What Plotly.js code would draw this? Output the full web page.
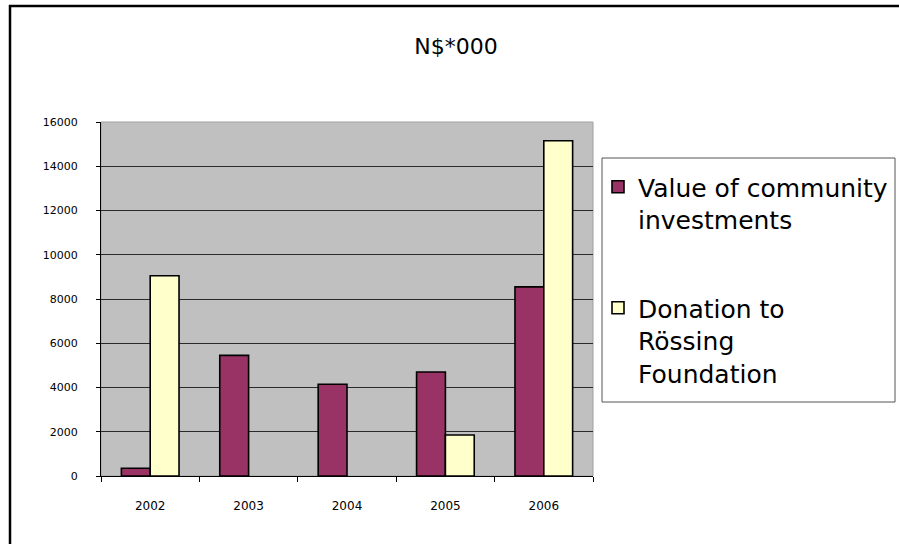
<!DOCTYPE html>
<html>
<head>
<meta charset="utf-8">
<script src="https://cdn.plot.ly/plotly-3.0.1.min.js"></script>
<style>
html,body{margin:0;padding:0;background:#fff;}
#chart{width:899px;height:544px;}
</style>
</head>
<body>
<div id="chart"></div>
<script>
const years = ['2002', '2003', '2004', '2005', '2006'];
const communityInvestments = [350, 5450, 4150, 4700, 8550];
const rossingDonation = [9050, null, null, 1850, 15150];
const seriesNames = ['Value of community<br>investments', 'Donation to<br>Rössing<br>Foundation'];
const yTicks = [0, 2000, 4000, 6000, 8000, 10000, 12000, 14000, 16000];

const FONT = 'DejaVu Sans, Arial, sans-serif';
const L = 101, R = 593, T = 122, B = 476, W = 899, H = 544;
const px = x => (x - L) / (R - L);
const py = y => (B - y) / (B - T);

const traces = [
  {
    type: 'bar', x: years, y: communityInvestments, name: seriesNames[0],
    legendgroup: 'a',
    marker: {color: '#993366', line: {color: '#000', width: 1.6}}
  },
  {
    type: 'bar', x: years, y: rossingDonation, name: seriesNames[1],
    legendgroup: 'b',
    marker: {color: '#FFFFCC', line: {color: '#000', width: 1.6}}
  }
];

const layout = {
  width: W, height: H,
  margin: {l: L, r: W - R, t: T, b: H - B, pad: 0, autoexpand: false},
  paper_bgcolor: '#fff',
  plot_bgcolor: '#C0C0C0',
  font: {family: FONT, color: '#000'},
  barmode: 'group',
  bargap: 0.414,
  bargroupgap: 0,
  title: {
    text: 'N$*000',
    font: {family: FONT, size: 22, color: '#000'},
    x: 456 / W, xref: 'container', xanchor: 'center',
    y: 1 - 46 / H, yref: 'container', yanchor: 'middle'
  },
  xaxis: {
    type: 'category',
    tickson: 'boundaries',
    ticks: 'outside', ticklen: 5, tickcolor: '#000', tickwidth: 1,
    showline: true, linecolor: '#000', linewidth: 1,
    showgrid: false, zeroline: false,
    tickfont: {family: FONT, size: 12, color: '#000'},
    ticklabelstandoff: 19,
    fixedrange: true
  },
  yaxis: {
    range: [0, 16000],
    tickvals: yTicks,
    ticktext: yTicks.map(String),
    ticks: 'outside', ticklen: 4, tickcolor: '#000', tickwidth: 1,
    showline: true, linecolor: '#000', linewidth: 1,
    showgrid: true, gridcolor: '#2a2a2a', gridwidth: 1,
    zeroline: false,
    tickfont: {family: FONT, size: 11, color: '#000'},
    ticklabelstandoff: 16,
    fixedrange: true
  },
  showlegend: true,
  legend: {
    x: px(598), xanchor: 'left',
    y: py(164), yanchor: 'top',
    bgcolor: 'rgba(0,0,0,0)',
    borderwidth: 0,
    valign: 'top',
    tracegroupgap: 53,
    traceorder: 'grouped',
    font: {family: FONT, size: 25, color: '#000'}
  },
  shapes: [
    {type: 'rect', xref: 'paper', yref: 'paper', x0: 0, x1: 1, y0: 0, y1: 1,
     line: {color: '#A0A0A0', width: 1}, fillcolor: 'rgba(0,0,0,0)', layer: 'below'},
    {type: 'rect', xref: 'paper', yref: 'paper', x0: px(602), x1: px(895), y0: py(402), y1: py(158),
     line: {color: '#555555', width: 1}, fillcolor: 'rgba(0,0,0,0)'},
    {type: 'line', xref: 'paper', yref: 'paper', x0: px(9), x1: px(905), y0: py(6), y1: py(6),
     line: {color: '#000', width: 2.5}},
    {type: 'line', xref: 'paper', yref: 'paper', x0: px(10), x1: px(10), y0: py(5), y1: py(550),
     line: {color: '#000', width: 2.5}}
  ]
};

Plotly.newPlot('chart', traces, layout, {staticPlot: true, displayModeBar: false});
</script>
</body>
</html>
